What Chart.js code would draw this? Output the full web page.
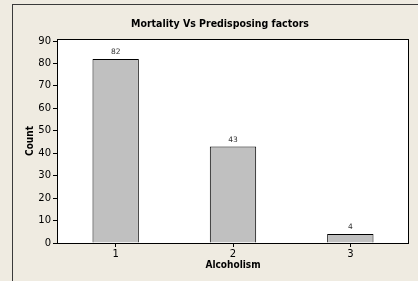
<!DOCTYPE html>
<html>
<head>
<meta charset="utf-8">
<script src="https://cdn.jsdelivr.net/npm/chart.js@4"></script>
<style>
  html, body { margin: 0; padding: 0; background: #efebe1; overflow: hidden; }
  #wrap { width: 418px; height: 281px; }
  canvas { display: block; }
</style>
</head>
<body>
<div id="wrap"><canvas id="chart" width="418" height="281"></canvas></div>
<script>
// --------------------
// Chart data
// --------------------
const categories = ["1", "2", "3"];
const counts = [82, 43, 4];
const yTicks = [0, 10, 20, 30, 40, 50, 60, 70, 80, 90];
const chartTitle = "Mortality Vs Predisposing factors";
const xTitle = "Alcoholism";
const yTitle = "Count";

const FONT = "'DejaVu Sans', Verdana, sans-serif";
const BOLD_FONT = "'DejaVu Sans Condensed', 'DejaVu Sans', sans-serif";
const BG = "#efebe1";

// --------------------
// Background, frame, title, value labels
// --------------------
const decorPlugin = {
  id: "decor",
  beforeDraw(chart) {
    const { ctx, chartArea: a } = chart;
    ctx.save();
    ctx.fillStyle = BG;
    ctx.fillRect(0, 0, chart.width, chart.height);
    ctx.fillStyle = "#ffffff";
    ctx.fillRect(a.left, a.top, a.right - a.left, a.bottom - a.top);
    ctx.restore();
  },
  afterDraw(chart) {
    const { ctx, chartArea: a } = chart;
    ctx.save();
    // keep the strip right of the plot clean
    ctx.fillStyle = BG;
    ctx.fillRect(a.right + 1, 0, chart.width - a.right, chart.height);
    // outer frame: left and top edges only
    ctx.fillStyle = "#3a3a3a";
    ctx.fillRect(12, 4, 1, chart.height - 4);
    ctx.fillRect(12, 4, chart.width - 12, 1);
    ctx.beginPath();
    ctx.strokeStyle = "#000000";
    ctx.lineWidth = 1;
    ctx.strokeRect(a.left + 0.5, a.top + 0.5, a.right - a.left - 1, a.bottom - a.top);
    ctx.fillStyle = "#000000";
    ctx.font = "bold 10.5px " + BOLD_FONT;
    ctx.textAlign = "center";
    ctx.textBaseline = "middle";
    ctx.fillText(chartTitle, 220, 24);
    ctx.font = "7.5px " + FONT;
    ctx.fillStyle = "#333333";
    ctx.textBaseline = "bottom";
    chart.getDatasetMeta(0).data.forEach((bar, i) => {
      ctx.fillText(String(counts[i]), bar.x, bar.y - 3);
    });
    ctx.restore();
  }
};

new Chart(document.getElementById("chart"), {
  type: "bar",
  data: {
    labels: categories,
    datasets: [{
      data: counts,
      backgroundColor: "#c0c0c0",
      borderColor: "#000000",
      borderWidth: 1,
      categoryPercentage: 1,
      barPercentage: 0.395
    }]
  },
  options: {
    responsive: false,
    animation: false,
    devicePixelRatio: 1,
    layout: { padding: { top: 39, left: 14, right: 9, bottom: 0 } },
    plugins: {
      legend: { display: false },
      title: { display: false },
      tooltip: { enabled: false }
    },
    scales: {
      x: {
        grid: { display: true, offset: false, drawOnChartArea: false, drawTicks: true, tickLength: 4, color: "#000000" },
        border: { display: false },
        ticks: { color: "#000000", font: { family: FONT, size: 10 }, padding: 1, maxRotation: 0 },
        title: {
          display: true, text: xTitle, color: "#000000",
          font: { family: BOLD_FONT, size: 10, weight: "bold" },
          padding: { top: 0, bottom: 10 }
        },
        afterFit(scale) { scale.height = 38; }
      },
      y: {
        min: 0,
        max: 90.9,
        grid: { display: true, drawOnChartArea: false, drawTicks: true, tickLength: 4, color: "#000000" },
        border: { display: false },
        ticks: { color: "#000000", font: { family: FONT, size: 10 }, padding: 2, stepSize: 10 },
        afterBuildTicks(scale) {
          scale.ticks = yTicks.map(v => ({ value: v }));
        },
        title: {
          display: true, text: yTitle, color: "#000000",
          font: { family: BOLD_FONT, size: 10, weight: "bold" },
          padding: { top: 10, bottom: 0 }
        },
        afterFit(scale) { scale.width = 43; }
      }
    }
  },
  plugins: [decorPlugin]
});
</script>
</body>
</html>
